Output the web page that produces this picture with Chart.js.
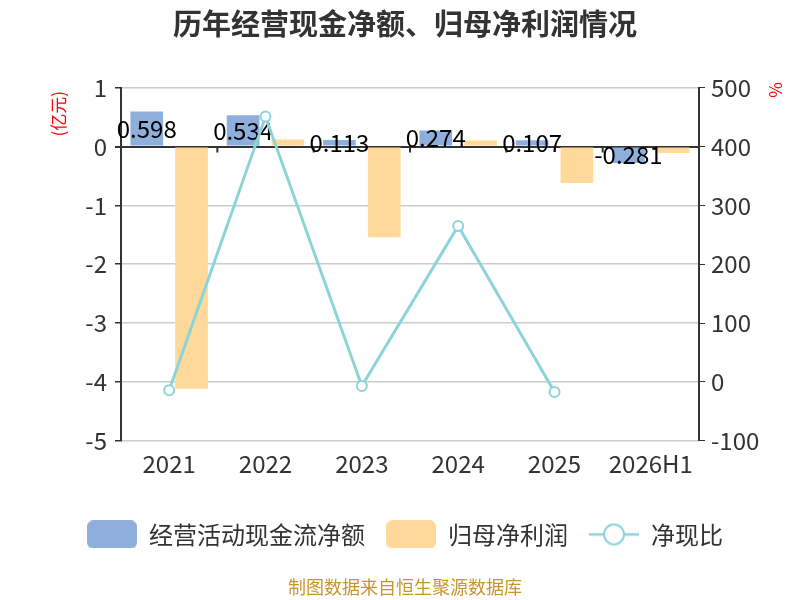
<!DOCTYPE html>
<html>
<head>
<meta charset="utf-8">
<script src="https://cdn.jsdelivr.net/npm/chart.js@4/dist/chart.umd.min.js"></script>
<style>
  html, body { margin: 0; padding: 0; background: #fff; }
  #wrap { width: 800px; height: 600px; }
</style>
</head>
<body>
<div id="wrap"><canvas id="myChart"></canvas></div>
<script>
const years = ["2021", "2022", "2023", "2024", "2025", "2026H1"];
const cashFlow = [0.598, 0.534, 0.113, 0.274, 0.107, -0.281];   // 经营活动现金流净额 (亿元)
const netProfit = [-4.12, 0.12, -1.54, 0.105, -0.62, -0.11];    // 归母净利润 (亿元)
const cashRatio = [-14.5, 451, -7.3, 265, -17.3, null];         // 净现比 (%)
const leftTicks = [-5, -4, -3, -2, -1, 0, 1];
const rightTicks = [-100, 0, 100, 200, 300, 400, 500];

const BLUE = "#8eaedc";
const ORANGE = "#ffd999";
const TEAL = "#8dd4d8";
const TXT = "#333333";

Chart.defaults.font.family = "'Noto Sans CJK SC', 'Noto Sans', sans-serif";
Chart.defaults.color = TXT;

// legend icons
const makeIcon = (kind, color) => {
  const c = document.createElement("canvas");
  c.width = 50;
  c.height = 28;
  const g = c.getContext("2d");
  if (kind === "box") {
    g.fillStyle = color;
    g.beginPath();
    g.roundRect(0, 0, 50, 28, 6);
    g.fill();
  } else {
    g.strokeStyle = color;
    g.lineWidth = 2.5;
    g.beginPath();
    g.moveTo(0, 14);
    g.lineTo(50, 14);
    g.stroke();
    g.fillStyle = "#fff";
    g.lineWidth = 2;
    g.beginPath();
    g.arc(25, 14, 10, 0, Math.PI * 2);
    g.fill();
    g.stroke();
  }
  return c;
};
const icons = [makeIcon("box", BLUE), makeIcon("box", ORANGE), makeIcon("line", TEAL)];

// values in the middle of the blue bars
const barLabels = {
  id: "barLabels",
  afterDatasetDraw(chart, args) {
    if (args.index !== 0) return;
    const ctx = chart.ctx;
    ctx.save();
    ctx.font = "24px 'Noto Sans CJK SC', 'Noto Sans', sans-serif";
    ctx.fillStyle = "#000";
    ctx.textAlign = "center";
    ctx.textBaseline = "middle";
    args.meta.data.forEach((bar, i) => {
      ctx.fillText(String(cashFlow[i]), bar.x, (bar.y + bar.base) / 2);
    });
    ctx.restore();
  },
};

// x ticks on the zero line + axis names
const axisExtras = {
  id: "axisExtras",
  beforeDatasetsDraw(chart) {
    const { ctx, scales } = chart;
    const x = scales.x;
    const y0 = scales.y.getPixelForValue(0);
    ctx.save();
    ctx.strokeStyle = TXT;
    ctx.lineWidth = 2;
    ctx.beginPath();
    for (let i = 1; i < years.length; i++) {
      const px = (x.getPixelForValue(i - 1) + x.getPixelForValue(i)) / 2;
      ctx.moveTo(px, y0);
      ctx.lineTo(px, y0 + 6);
    }
    ctx.stroke();
    ctx.restore();
  },
  afterDraw(chart) {
    const { ctx, chartArea } = chart;
    const names = [
      ["(亿元)", chartArea.left - 62, chartArea.top + 26],
      ["%", chartArea.right + 77, chartArea.top + 2],
    ];
    names.forEach(([t, px, py]) => {
      ctx.save();
      ctx.fillStyle = "#ff0000";
      ctx.font = "17px 'Noto Sans CJK SC', sans-serif";
      ctx.textAlign = "center";
      ctx.textBaseline = "middle";
      ctx.translate(px, py);
      ctx.rotate(-Math.PI / 2);
      ctx.fillText(t, 0, 0);
      ctx.restore();
    });
  },
};

const data = {
  labels: years,
  datasets: [
    {
      type: "bar",
      label: "经营活动现金流净额",
      data: cashFlow,
      backgroundColor: BLUE,
      yAxisID: "y",
      order: 1,
      categoryPercentage: 0.93,
      barPercentage: 0.73,
    },
    {
      type: "bar",
      label: "归母净利润",
      data: netProfit,
      backgroundColor: ORANGE,
      yAxisID: "y",
      order: 2,
      categoryPercentage: 0.93,
      barPercentage: 0.73,
    },
    {
      type: "line",
      label: "净现比",
      data: cashRatio,
      borderColor: TEAL,
      borderWidth: 3,
      pointRadius: 5,
      pointBorderWidth: 2,
      pointBackgroundColor: "#fff",
      pointBorderColor: TEAL,
      yAxisID: "y1",
      order: 0,
      tension: 0,
    },
  ],
};

const config = {
  data: data,
  options: {
    responsive: true,
    maintainAspectRatio: false,
    animation: false,
    layout: { padding: { left: 40, right: 30 } },
    plugins: {
      title: {
        display: true,
        text: "历年经营现金净额、归母净利润情况",
        color: TXT,
        font: { size: 29, weight: "bold" },
        padding: { top: 7, bottom: 46 },
      },
      subtitle: {
        display: true,
        position: "bottom",
        text: "制图数据来自恒生聚源数据库",
        color: "#c8962c",
        font: { size: 18 },
        padding: { top: 20, bottom: 2 },
      },
      legend: {
        position: "bottom",
        labels: {
          usePointStyle: true,
          pointStyleWidth: 50,
          boxHeight: 28,
          padding: 21,
          color: TXT,
          font: { size: 24 },
          generateLabels: (chart) =>
            chart.data.datasets.map((ds, i) => ({
              text: ds.label,
              pointStyle: icons[i],
              fillStyle: "#fff",
              strokeStyle: "#fff",
              lineWidth: 0,
              fontColor: TXT,
              datasetIndex: i,
              hidden: false,
            })),
        },
      },
      tooltip: { enabled: false },
    },
    scales: {
      x: {
        grid: { display: false },
        border: { display: false },
        ticks: { color: TXT, font: { size: 24 }, padding: 1 },
        afterFit: (s) => { s.height += 22; },
      },
      y: {
        position: "left",
        min: -5,
        max: 1,
        afterBuildTicks: (s) => { s.ticks = leftTicks.map((v) => ({ value: v })); },
        afterFit: (s) => { s.width = 81; },
        grid: {
          color: (c) => (c.tick && c.tick.value === 0 ? TXT : "#cccccc"),
          lineWidth: (c) => (c.tick && c.tick.value === 0 ? 2 : 1.5),
          tickColor: TXT,
          tickLength: 6,
        },
        border: { color: TXT, width: 2 },
        ticks: { color: TXT, font: { size: 24 }, padding: 8 },
      },
      y1: {
        position: "right",
        min: -100,
        max: 500,
        afterBuildTicks: (s) => { s.ticks = rightTicks.map((v) => ({ value: v })); },
        afterFit: (s) => { s.width = 71; },
        grid: { drawOnChartArea: false, tickColor: TXT, tickLength: 6 },
        border: { color: TXT, width: 2 },
        ticks: { color: TXT, font: { size: 24 }, padding: 6 },
      },
    },
  },
  plugins: [barLabels, axisExtras],
};

new Chart(document.getElementById("myChart"), config);
</script>
</body>
</html>
